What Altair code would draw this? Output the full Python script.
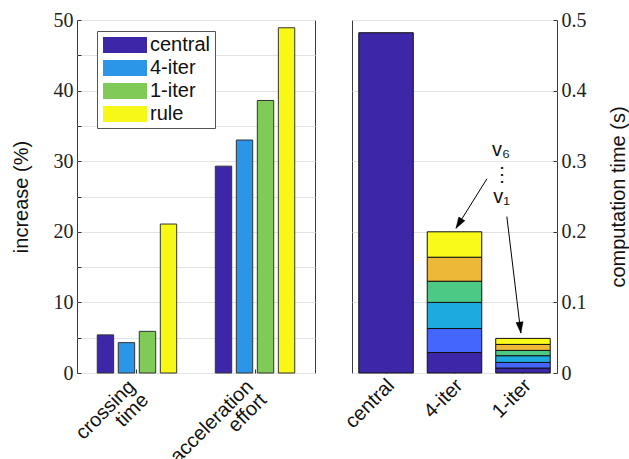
import altair as alt
import pandas as pd

# ---------------- data ----------------
categories = ["crossing time", "acceleration effort"]
methods = ["central", "4-iter", "1-iter", "rule"]
increase_crossing = [5.4, 4.3, 5.9, 21.1]
increase_accel = [29.3, 33.0, 38.6, 48.9]
method_colors = ["#3e26a8", "#2b95e8", "#80cb58", "#f8f816"]

comp_methods = ["central", "4-iter", "1-iter"]
segments = ["v1", "v2", "v3", "v4", "v5", "v6"]
seg_colors = ["#3e26a8", "#4466fc", "#1caadf", "#4bc985", "#edb738", "#f9f91a"]
central_time = [0.482]
iter4_times = [0.029, 0.034, 0.037, 0.030, 0.034, 0.036]
iter1_times = [0.007, 0.008, 0.0095, 0.0075, 0.0085, 0.0085]

# annotation (data units: x = category index, y = seconds)
arrow_x1 = [1.474, 1.766]
arrow_y1 = [0.275, 0.2216]
arrow_x2 = [1.022, 1.971]
arrow_y2 = [0.205, 0.0565]
arrow_angle = [211.8, 173.2]
note_text = ["v\u2086", "\u22ee", "v\u2081"]
note_x = [1.68, 1.69, 1.69]
note_y = [0.316, 0.281, 0.249]

SANS = "Liberation Sans"
SERIF = "Liberation Serif"
FS = 20

# ---------------- left panel ----------------
rows = []
for c, vals in zip(categories, [increase_crossing, increase_accel]):
    for m, v in zip(methods, vals):
        rows.append({"metric": c, "method": m, "value": v})
left_df = pd.DataFrame(rows)

left = alt.Chart(left_df).mark_bar(stroke="#333333", strokeWidth=1).encode(
    x=alt.X("metric:N", sort=categories,
            scale=alt.Scale(paddingInner=0.288, paddingOuter=0.152),
            axis=alt.Axis(title=None, labelAngle=-45, labelAlign="right",
                          labelBaseline="top", labelExpr="split(datum.label, ' ')",
                          labelFont=SANS, labelFontSize=FS, labelColor="#111",
                          domain=False, offset=-4, tickSize=4, tickColor="#333",
                          labelPadding=3, labelOffset=-12, labelLineHeight=19)),
    xOffset=alt.XOffset("method:N", sort=methods,
                        scale=alt.Scale(paddingInner=0.22, paddingOuter=0.11)),
    y=alt.Y("value:Q", scale=alt.Scale(domain=[0, 50], nice=False),
            axis=alt.Axis(values=list(range(0, 51, 5)),
                          labelExpr="datum.value % 10 == 0 ? datum.label : ''",
                          title="increase (%)", titleFont=SANS, titleFontSize=FS,
                          titleFontWeight="normal", titleColor="#111", titlePadding=22,
                          labelFont=SERIF, labelFontSize=FS, labelColor="#222",
                          domain=False, offset=-4, tickSize=4, tickColor="#333",
                          labelPadding=4, grid=True, gridColor="#e3e3e3")),
    color=alt.Color("method:N", sort=methods,
                    scale=alt.Scale(domain=methods, range=method_colors),
                    legend=alt.Legend(title=None, orient="none", legendX=20, legendY=11,
                                      symbolType="M-2.75,-1L2.75,-1L2.75,1L-2.75,1Z",
                                      symbolSize=256, symbolStrokeWidth=0,
                                      symbolOffset=14,
                                      labelExpr="datum.label + '\u2003'",
                                      labelFont=SANS, labelFontSize=FS, labelColor="#111",
                                      strokeColor="#555", fillColor="white",
                                      padding=4, rowPadding=3, labelOffset=15)),
).properties(width=238, height=353)

# ---------------- right panel ----------------
rows = [{"method": "central", "seg": "v1", "order": 1, "time": central_time[0]}]
for m, times in zip(["4-iter", "1-iter"], [iter4_times, iter1_times]):
    for i, (s, t) in enumerate(zip(segments, times)):
        rows.append({"method": m, "seg": s, "order": i + 1, "time": t})
right_df = pd.DataFrame(rows)

yq = alt.Scale(domain=[0, 0.5], nice=False)

bars = alt.Chart(right_df).mark_bar(stroke="#111111", strokeWidth=1).encode(
    x=alt.X("method:N", sort=comp_methods,
            scale=alt.Scale(paddingInner=0.204, paddingOuter=0.099),
            axis=alt.Axis(title=None, labelAngle=-45, labelAlign="right",
                          labelBaseline="top", labelFont=SANS, labelFontSize=FS,
                          labelColor="#111", domain=False, offset=-4, tickSize=4,
                          tickColor="#333", labelPadding=2, labelOffset=-2)),
    y=alt.Y("time:Q", stack="zero", scale=yq,
            axis=alt.Axis(orient="right", values=[round(i * 0.05, 2) for i in range(11)],
                          labelExpr="round(datum.value * 100) % 10 == 0 ? datum.label : ''",
                          format=".1~f",
                          title="computation time (s)", titleAngle=270,
                          titleBaseline="top",
                          titleFont=SANS, titleFontSize=FS, titleFontWeight="normal",
                          titleColor="#111", titlePadding=22,
                          labelFont=SERIF, labelFontSize=FS, labelColor="#222",
                          domain=False, offset=-4, tickSize=4, tickColor="#333",
                          labelPadding=4, grid=True, gridColor="#e3e3e3")),
    color=alt.Color("seg:N", scale=alt.Scale(domain=segments, range=seg_colors),
                    legend=None),
    order=alt.Order("order:Q"),
)

arrow_df = pd.DataFrame({"x1": arrow_x1, "y1": arrow_y1, "x2": arrow_x2,
                         "y2": arrow_y2, "angle": arrow_angle})
xq = alt.Scale(domain=[-0.5, 2.5], nice=False, zero=False)

shafts = alt.Chart(arrow_df).mark_rule(color="black", strokeWidth=1).encode(
    x=alt.X("x1:Q", scale=xq, axis=None),
    y=alt.Y("y1:Q", scale=yq),
    x2="x2:Q", y2="y2:Q",
)
heads = alt.Chart(arrow_df).mark_point(
    shape="M0,0L-0.32,1L0.32,1Z", filled=True, fill="black", stroke="black",
    strokeWidth=0.5, size=484, opacity=1,
).encode(
    x=alt.X("x2:Q", scale=xq, axis=None),
    y=alt.Y("y2:Q", scale=yq),
    angle=alt.Angle("angle:Q", scale=None),
)
note_df = pd.DataFrame({"t": note_text, "x": note_x, "y": note_y})
notes = alt.Chart(note_df).mark_text(font=SANS, fontSize=FS, color="#111",
                                     baseline="middle", align="center").encode(
    x=alt.X("x:Q", scale=xq, axis=None),
    y=alt.Y("y:Q", scale=yq),
    text="t:N",
)

right = alt.layer(bars, shafts, heads, notes).resolve_scale(
    x="independent"
).properties(width=205, height=353)

chart = alt.hconcat(left, right, spacing=37, bounds="flush").resolve_scale(
    color="independent"
).properties(
    padding={"left": 10, "top": 9, "right": 0, "bottom": 0}
).configure_view(stroke="#3a3a3a", strokeWidth=1).configure_axis(
    labelOverlap=False
)

chart.save("out.html", embed_options={"renderer": "svg", "actions": False})
